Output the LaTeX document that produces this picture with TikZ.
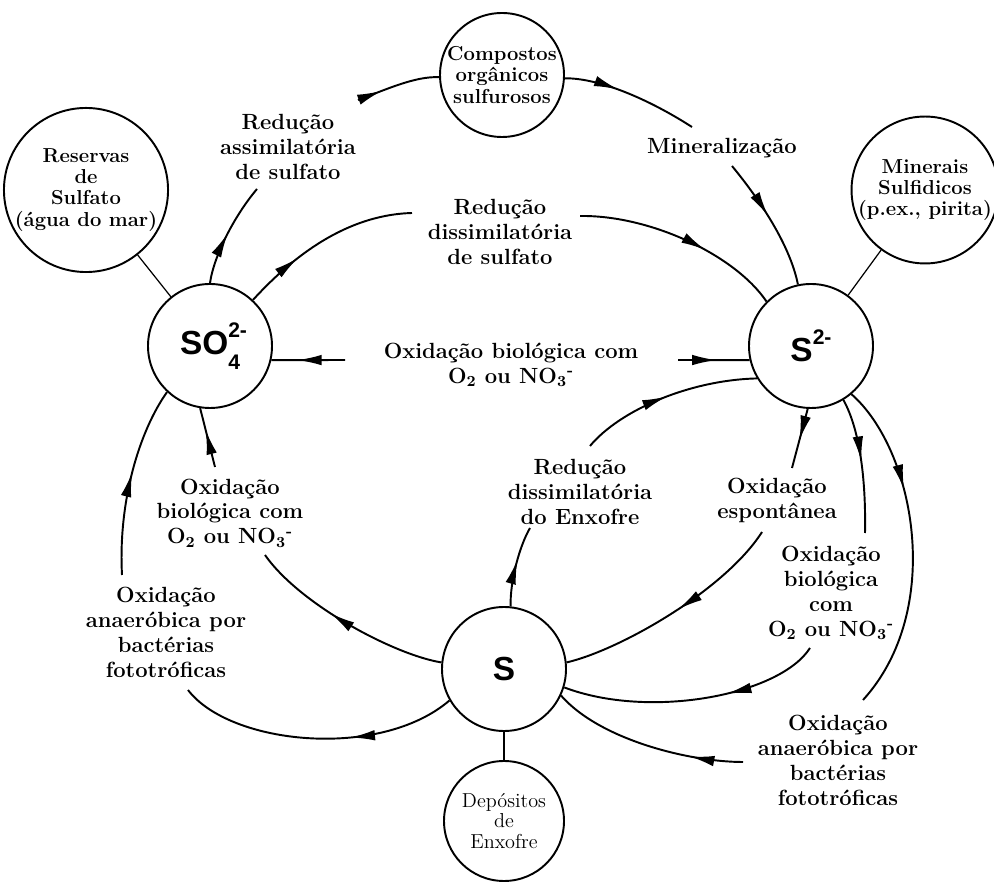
\documentclass[tikz,border=0pt]{standalone}
\usepackage{fontspec}
\newfontfamily\chemfont{Liberation Sans}
\usetikzlibrary{arrows.meta,decorations.markings}

\newcommand{\oxnit}{O\textsubscript{2} ou NO\textsubscript{3}\textsuperscript{-}}

\begin{document}
\begin{tikzpicture}[x=0.2mm,y=-0.2mm,
  pool/.style={draw,circle,line width=1.1pt,inner sep=0pt,minimum size=24.8mm,
    font=\chemfont\bfseries\fontsize{19}{19}\selectfont},
  store/.style={draw,circle,line width=1.1pt,inner sep=0pt,align=center,
    font=\bfseries\fontsize{11.5}{12}\selectfont},
  proc/.style={align=center,font=\bfseries\fontsize{12.5}{14.2}\selectfont},
  flow/.style={line width=1.1pt,postaction={decorate},
    decoration={markings,mark=at position #1 with {\arrow{Latex[length=14pt,width=6pt]}}}},
  flow/.default=0.5,
  link/.style={line width=0.7pt}]
\useasboundingbox (0,0) rectangle (994,882);

% reservatorios
\node[pool] (so4) at (210,346) {SO\rlap{\raisebox{0.5em}{\fontsize{12}{12}\selectfont 2-}}\raisebox{-0.45em}{\fontsize{12}{12}\selectfont 4}};
\node[pool] (s2) at (811,346) {S\raisebox{0.5em}{\fontsize{12}{12}\selectfont 2-}};
\node[pool] (s0) at (504,669) {S};
\node[store,minimum size=24.8mm] (org) at (502,75) {Compostos\\orgânicos\\sulfurosos};
\node[store,minimum size=28.8mm] (sea) at (86,190) {Reservas\\de\\Sulfato\\(água do mar)};
\node[store,minimum size=27.6mm] (min) at (925,190) {Minerais\\Sulfidicos\\(p.ex., pirita)};
\node[store,minimum size=24mm,font=\normalfont\fontsize{11.5}{11.5}\selectfont] (dep) at (504,821) {Depósitos\\de\\Enxofre};

\draw[link] (sea) -- (so4);
\draw[link] (min) -- (s2);
\draw[link] (s0) -- (dep);

% processos
\node[proc] (tAssim) at (288,147) {Redução\\assimilatória\\de sulfato};
\node[proc] (tMin) at (722,148) {Mineralização};
\node[proc] (tDissSO4) at (500,232) {Redução\\dissimilatória\\de sulfato};
\node[proc] (tOxH) at (511,365) {Oxidação biológica com\\\oxnit};
\node[proc] (tOxBioL) at (230,513) {Oxidação\\biológica com\\\oxnit};
\node[proc] (tAnaerL) at (166,632) {Oxidação\\anaeróbica por\\bactérias\\fototróficas};
\node[proc] (tDissS) at (580,492) {Redução\\dissimilatória\\do Enxofre};
\node[proc] (tEspont) at (777,500) {Oxidação\\espontânea};
\node[proc] (tOxBioR) at (831,593) {Oxidação\\biológica\\com\\\oxnit};
\node[proc] (tAnaerR) at (838,760) {Oxidação\\anaeróbica por\\bactérias\\fototróficas};

% pontas livres junto aos textos
\coordinate (assimIn) at (257,189);
\coordinate (assimOut) at (358,100);
\coordinate (minIn) at (692,127);
\coordinate (minOut) at (732,166);
\coordinate (dsIn) at (412,213);
\coordinate (dsOut) at (580,216);
\coordinate (oxhL) at (345,360);
\coordinate (oxhR) at (678,360);
\coordinate (oxlIn) at (265,555);
\coordinate (oxlOut) at (215,467);
\coordinate (anlTop) at (122,575);
\coordinate (anlBot) at (188,690);
\coordinate (dsS) at (530,528);
\coordinate (dsSOut) at (590,446);
\coordinate (espIn) at (792,468);
\coordinate (espOut) at (762,532);
\coordinate (oxrIn) at (865,533);
\coordinate (oxrOut) at (810,648);
\coordinate (anrIn) at (863,700);
\coordinate (anrOut) at (743,762);

% fluxos
\draw[flow=0.5] (so4.90) .. controls (214,255) and (235,215) .. (assimIn);
\draw[flow=0.3] (assimOut) .. controls (385,90) and (415,76) .. (org.182);
\draw[flow=0.4] (org.-3) .. controls (600,78) and (650,100) .. (minIn);
\draw[flow=0.45] (minOut) .. controls (760,200) and (790,245) .. (s2.102);
\draw[flow=0.33] (so4.47) .. controls (285,265) and (340,215) .. (dsIn);
\draw[flow=0.62] (dsOut) .. controls (650,215) and (735,255) .. (s2.135);
\draw[flow=0.65] (oxhL) -- (so4.-13);
\draw[flow=0.54] (oxhR) -- (s2.193);
\draw[flow=0.58] (s0.174) .. controls (395,655) and (300,605) .. (oxlIn);
\draw[flow=0.63] (oxlOut) -- (so4.261);
\draw[flow=0.54] (anlTop) .. controls (118,500) and (140,430) .. (so4.227);
\draw[flow=0.38] (s0.210) .. controls (380,760) and (230,745) .. (anlBot);
\draw[flow=0.58] (s0.84) .. controls (510,580) and (520,545) .. (dsS);
\draw[flow=0.5] (dsSOut) .. controls (620,410) and (690,380) .. (s2.211);
\draw[flow=0.53] (s2.267) -- (espIn);
\draw[flow=0.48] (espOut) .. controls (725,590) and (620,650) .. (s0.6);
\draw[flow=0.47] (s2.301) .. controls (860,430) and (866,480) .. (oxrIn);
\draw[flow=0.37] (oxrOut) .. controls (780,695) and (650,720) .. (s0.343);
\draw[flow=0.33] (s2.310) .. controls (915,450) and (945,610) .. (anrIn);
\draw[flow=0.27] (anrOut) .. controls (690,762) and (600,740) .. (s0.335);
\end{tikzpicture}
\end{document}
